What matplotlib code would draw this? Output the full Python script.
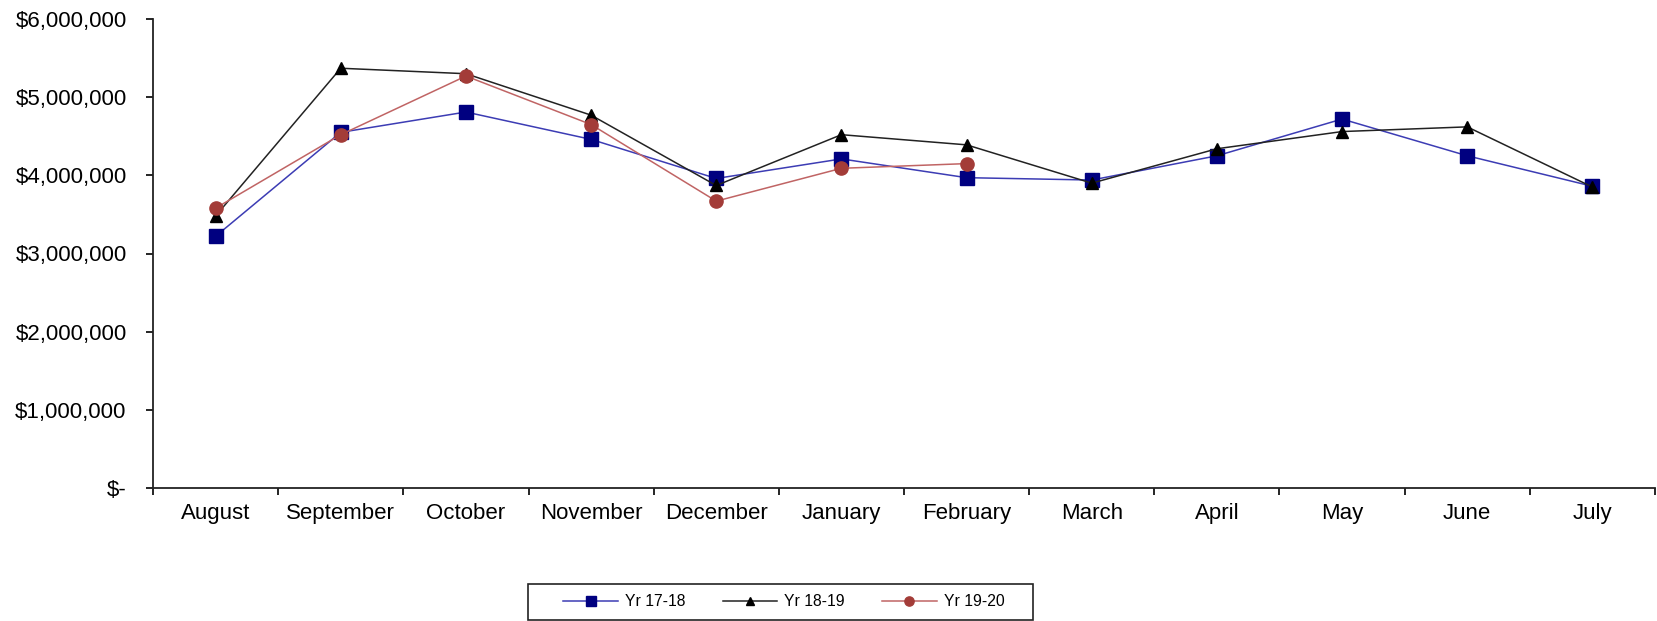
import numpy as np
import matplotlib
matplotlib.use("Agg")
import matplotlib.pyplot as plt
from matplotlib.patches import Rectangle
from matplotlib.ticker import FuncFormatter, FixedLocator

plt.rcParams['font.family'] = ['Liberation Sans', 'DejaVu Sans']

months = ["August", "September", "October", "November", "December", "January",
          "February", "March", "April", "May", "June", "July"]
yr_17_18 = [3220000, 4550000, 4810000, 4460000, 3960000, 4210000,
            3970000, 3940000, 4250000, 4720000, 4250000, 3860000]
yr_18_19 = [3480000, 5370000, 5300000, 4770000, 3870000, 4520000,
            4390000, 3900000, 4340000, 4560000, 4620000, 3850000]
yr_19_20 = [3580000, 4520000, 5270000, 4650000, 3670000, 4090000, 4150000]

W, H = 1657, 621
fig = plt.figure(figsize=(W/100, H/100), dpi=100)
ax = fig.add_axes([153/W, 1-488/H, (1655-153)/W, (488-19)/H])

x = np.arange(len(months))
ax.plot(x, yr_17_18, color="#3c3cb4", lw=1.1, marker="s", ms=10,
        mfc="#000080", mec="#000080", label="Yr 17-18")
ax.plot(x, yr_18_19, color="#222222", lw=1.1, marker="^", ms=9,
        mfc="black", mec="black", label="Yr 18-19")
ax.plot(x[:len(yr_19_20)], yr_19_20, color="#c06464", lw=1.1, marker="o", ms=9.5,
        mfc="#a33c38", mec="#a33c38", label="Yr 19-20")

ax.set_xlim(-0.5, len(months) - 0.5)
ax.set_ylim(0, 6000000)
ax.set_yticks(np.arange(0, 6000001, 1000000))

def money(v, pos):
    if v == 0:
        return "$-"
    return "${:,.0f}".format(v)

ax.yaxis.set_major_formatter(FuncFormatter(money))
ax.set_xticks(x)
# baseline alignment keeps labels with descenders on one line
ax.set_xticklabels(months, va="baseline")
ax.xaxis.set_minor_locator(FixedLocator(np.arange(-0.5, len(months), 1.0)))
ax.tick_params(axis="x", which="major", length=0, pad=22.3, labelsize=16)
ax.tick_params(axis="x", which="minor", length=5, width=1.2, direction="out")
ax.tick_params(axis="y", length=5, width=1.2, pad=14, labelsize=16)

for side in ["top", "right"]:
    ax.spines[side].set_visible(False)
for side in ["left", "bottom"]:
    ax.spines[side].set_linewidth(1.3)
    ax.spines[side].set_color("#222222")

# legend entries without frame, box drawn separately
fig.legend(loc="center", bbox_to_anchor=(784/W, 1-602/H), ncol=3,
           fontsize=11.3, frameon=False,
           handlelength=3.5, handletextpad=0.45, columnspacing=2.35,
           markerscale=0.7)
fig.patches.append(Rectangle((528/W, 1-620/H), 505/W, 36/H,
                             transform=fig.transFigure, fill=False,
                             edgecolor="#222222", lw=1.2))

fig.savefig("out.png", dpi=100, facecolor="white")
